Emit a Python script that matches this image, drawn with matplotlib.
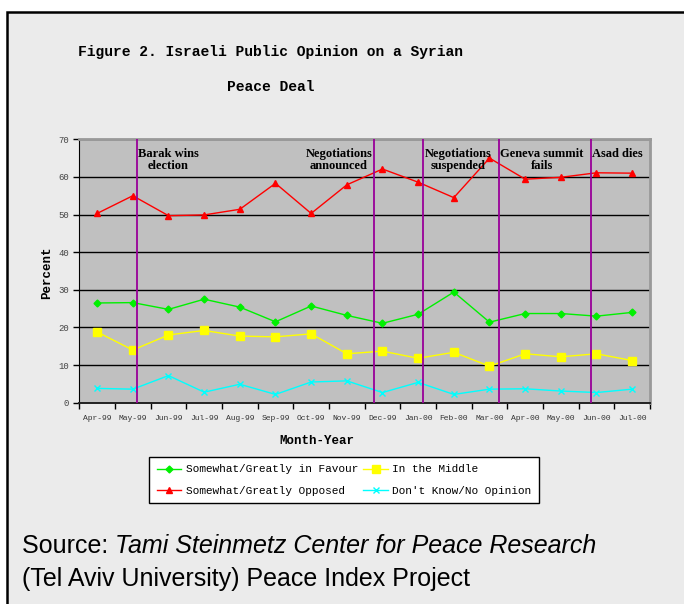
import matplotlib.pyplot as plt
import numpy as np
from matplotlib.patches import Rectangle

# Pesquisa mensal, abril/1999 a julho/2000
meses = ["Apr-99", "May-99", "Jun-99", "Jul-99", "Aug-99", "Sep-99", "Oct-99", "Nov-99",
         "Dec-99", "Jan-00", "Feb-00", "Mar-00", "Apr-00", "May-00", "Jun-00", "Jul-00"]

a_favor = [26.5, 26.6, 24.8, 27.5, 25.4, 21.5, 25.7, 23.2,
           21.1, 23.5, 29.4, 21.4, 23.7, 23.7, 23.0, 24.0]
contra = [50.3, 55.0, 49.7, 49.9, 51.4, 58.3, 50.3, 57.9,
          62.1, 58.6, 54.5, 65.0, 59.4, 59.9, 61.1, 61.0]
meio = [18.8, 14.0, 18.0, 19.2, 17.7, 17.5, 18.3, 13.0,
        13.7, 11.8, 13.4, 9.7, 13.0, 12.2, 13.0, 11.2]
sem_opiniao = [3.8, 3.6, 7.2, 2.8, 4.9, 2.2, 5.5, 5.8,
               2.7, 5.4, 2.2, 3.6, 3.7, 3.1, 2.7, 3.6]

# Eventos marcados no gráfico (posição no eixo de meses)
eventos = ["Barak wins\nelection", "Negotiations\nannounced", "Negotiations\nsuspended",
           "Geneva summit\nfails", "Asad dies"]
eventos_linha = [1.11, 7.77, 9.14, 11.26, 13.84]
eventos_texto = [1.99, 6.78, 10.12, 12.47, 14.58]

mono = "Liberation Mono"

fig = plt.figure(figsize=(6.84, 6.04), dpi=100)
fig.patch.set_facecolor("white")

# moldura cinza clara com borda preta à esquerda e em cima
fig.patches.append(Rectangle((7/684, -0.1), 1.2, 1 - 12/604 + 0.1, transform=fig.transFigure,
                             facecolor="#EBEBEB", edgecolor="black", linewidth=1.8, zorder=-10))

ax = fig.add_axes([79.3/684, 1 - 402.7/604, (650 - 79.3)/684, (402.7 - 139.3)/604])
ax.set_facecolor("#C0C0C0")

x = np.arange(len(meses))
ax.plot(x, a_favor, color="#00F000", marker="D", markersize=3.5, lw=1, label="Somewhat/Greatly in Favour")
ax.plot(x, contra, color="#FF0000", marker="^", markersize=5, lw=1, label="Somewhat/Greatly Opposed")
ax.plot(x, meio, color="#FFFF00", marker="s", markersize=5.5, lw=1, label="In the Middle")
ax.plot(x, sem_opiniao, color="#00FFFF", marker="x", markersize=5, mew=1, lw=1, label="Don't Know/No Opinion")

for xl in eventos_linha:
    ax.axvline(xl, color="#990099", lw=1.3, zorder=3)
for xt, txt in zip(eventos_texto, eventos):
    ax.text(xt, 67.8, txt, ha="center", va="top", fontsize=9, fontweight="bold",
            family="Liberation Serif", color="black", linespacing=1.0, zorder=4)

ax.set_xlim(-0.5, len(meses) - 0.5)
ax.set_ylim(0, 70)
ax.set_yticks(range(0, 71, 10))
ax.yaxis.grid(True, color="black", lw=1)
ax.set_axisbelow(True)

ax.set_xticks(x)
ax.set_xticklabels(meses)
ax.set_xticks(np.arange(-0.5, len(meses)), minor=True)
ax.tick_params(axis="x", which="major", length=0, pad=9, labelsize=5.8, labelcolor="#333333")
ax.tick_params(axis="x", which="minor", length=4, width=1, direction="out")
ax.tick_params(axis="y", length=4, width=1, direction="out", labelsize=6.5, labelcolor="#444444")
for lbl in ax.get_xticklabels() + ax.get_yticklabels():
    lbl.set_family(mono)

ax.spines["left"].set_color("black")
ax.spines["bottom"].set_color("#222222")
ax.spines["bottom"].set_linewidth(1.4)
ax.spines["top"].set_color("#999999")
ax.spines["right"].set_color("#999999")
ax.spines["top"].set_linewidth(2)
ax.spines["right"].set_linewidth(2)

fig.text(271/684, 1 - 52/604, "Figure 2. Israeli Public Opinion on a Syrian", ha="center", va="center",
         fontsize=10.5, fontweight="bold", family=mono)
fig.text(271/684, 1 - 87/604, "Peace Deal", ha="center", va="center",
         fontsize=10.5, fontweight="bold", family=mono)
fig.text(47/684, 1 - 273/604, "Percent", ha="center", va="center", rotation=90,
         fontsize=9, fontweight="bold", family=mono)
fig.text(317/684, 1 - 441/604, "Month-Year", ha="center", va="center",
         fontsize=9, fontweight="bold", family=mono)

h, l = ax.get_legend_handles_labels()
leg = fig.legend(h, l, loc="center", bbox_to_anchor=(344/684, 1 - 480/604), ncol=2,
                 fancybox=False, edgecolor="black", framealpha=1, borderpad=0.7,
                 handlelength=2.2, columnspacing=0.5, labelspacing=1.0, handletextpad=0.4,
                 prop={"family": mono, "size": 8})
leg.get_frame().set_linewidth(1)

src1 = fig.text(22/684, 1 - 553/604, "Source: ", ha="left", va="baseline", fontsize=18,
                family="Liberation Sans")
fig.canvas.draw()
bb = src1.get_window_extent()
fig.text(bb.x1/684, 1 - 553/604, "Tami Steinmetz Center for Peace Research", ha="left", va="baseline",
         fontsize=18, family="Liberation Sans", style="italic")
fig.text(22/684, 1 - 586/604, "(Tel Aviv University) Peace Index Project", ha="left", va="baseline",
         fontsize=18, family="Liberation Sans")

fig.savefig("out.png", dpi=100)
